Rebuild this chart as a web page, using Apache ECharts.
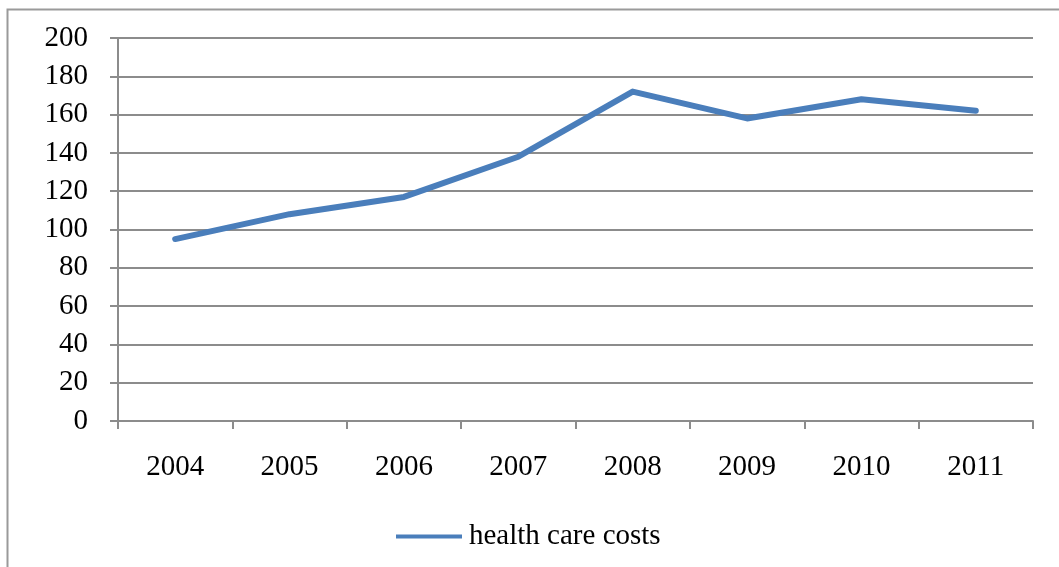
<!DOCTYPE html>
<html>
<head>
<meta charset="utf-8">
<script src="https://cdn.jsdelivr.net/npm/echarts@6/dist/echarts.min.js"></script>
<style>
  html, body { margin: 0; padding: 0; background: #fff; }
  #chart { width: 1059px; height: 567px; }
</style>
</head>
<body>
<div id="chart"></div>
<script>
// Annual health care costs, 2004-2011
const years = ['2004', '2005', '2006', '2007', '2008', '2009', '2010', '2011'];
const costs = [95, 108, 117, 138, 172, 158, 168, 162];
const seriesName = 'health care costs';

const axisGray = '#8c8c8c';
const serif = '"Liberation Serif", "DejaVu Serif", serif';

const chart = echarts.init(document.getElementById('chart'), null, { renderer: 'canvas' });
chart.setOption({
  animation: false,
  backgroundColor: '#fff',
  graphic: [{
    type: 'rect',
    shape: { x: 7.5, y: 9.5, width: 1070, height: 600 },
    style: { fill: 'none', stroke: '#9a9a9a', lineWidth: 2 },
    silent: true
  }],
  grid: { left: 118, right: 26, top: 38, bottom: 146 },
  legend: {
    data: [seriesName],
    left: 396,
    top: 522,
    padding: 0,
    icon: 'rect',
    itemWidth: 66,
    itemHeight: 4,
    textStyle: { fontFamily: serif, fontSize: 29, color: '#000', padding: [6, 0, 0, 2] }
  },
  xAxis: {
    type: 'category',
    data: years,
    boundaryGap: true,
    axisLine: { show: true, lineStyle: { color: axisGray, width: 2 } },
    axisTick: { show: true, length: 8, alignWithLabel: false, lineStyle: { color: axisGray, width: 2 } },
    axisLabel: { margin: 32, fontFamily: serif, fontSize: 29, color: '#000' },
    splitLine: { show: false }
  },
  yAxis: {
    type: 'value',
    min: 0,
    max: 200,
    interval: 20,
    axisLine: { show: true, lineStyle: { color: axisGray, width: 2 } },
    axisTick: { show: true, length: 8, lineStyle: { color: axisGray, width: 2 } },
    axisLabel: { margin: 30, fontFamily: serif, fontSize: 29, color: '#000' },
    splitLine: { show: true, lineStyle: { color: axisGray, width: 2 } }
  },
  series: [{
    name: seriesName,
    type: 'line',
    data: costs,
    symbol: 'none',
    lineStyle: { color: '#4a7ebb', width: 6, cap: 'round', join: 'round' },
    itemStyle: { color: '#4a7ebb' }
  }]
});
</script>
</body>
</html>
